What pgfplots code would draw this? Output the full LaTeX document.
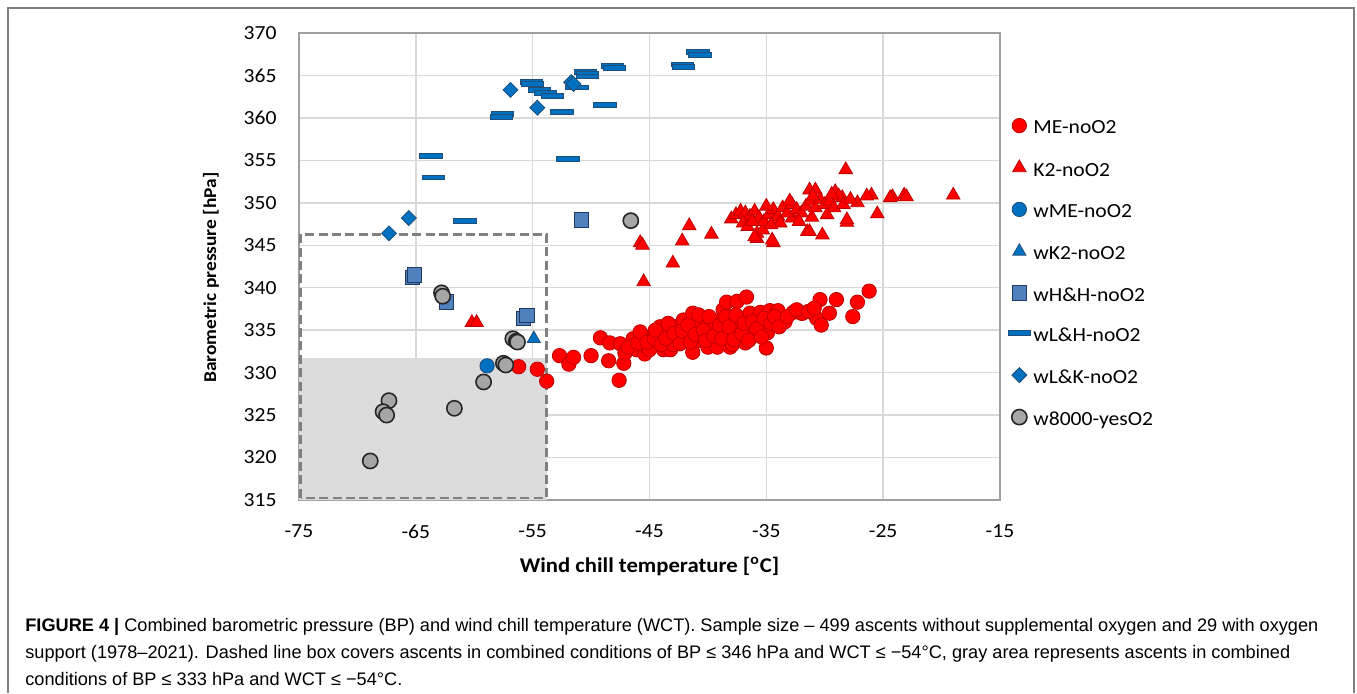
\documentclass[border=0pt]{standalone}
\usepackage{fontspec}
\setmainfont{Carlito}[FakeStretch=1.08]
\newfontfamily\capfont{Liberation Sans}
\usepackage{pgfplots}
\pgfplotsset{compat=1.18}
\definecolor{mered}{HTML}{FF0000}
\definecolor{meredge}{HTML}{C00000}
\definecolor{wblue}{HTML}{0070C0}
\definecolor{wblueedge}{HTML}{1F4E79}
\definecolor{hhblue}{HTML}{4F81BD}
\definecolor{hhedge}{HTML}{203864}
\definecolor{gfill}{HTML}{A6A6A6}
\definecolor{gedge}{HTML}{262626}
\definecolor{gridc}{HTML}{D9D9D9}
\definecolor{framec}{HTML}{A0A0A0}
\definecolor{areac}{HTML}{DCDCDC}
\definecolor{boxc}{HTML}{808080}
\pgfdeclareplotmark{dashrect}{\pgfpathrectangle{\pgfqpoint{-5.6pt}{-1.2pt}}{\pgfqpoint{11.2pt}{2.4pt}}\pgfusepathqfillstroke}
\pgfdeclareplotmark{diam}{\pgfpathmoveto{\pgfqpoint{0pt}{3.75pt}}\pgfpathlineto{\pgfqpoint{3.75pt}{0pt}}\pgfpathlineto{\pgfqpoint{0pt}{-3.75pt}}\pgfpathlineto{\pgfqpoint{-3.75pt}{0pt}}\pgfpathclose\pgfusepathqfillstroke}
\pgfplotsset{lgimg/.style={legend image code/.code={\draw[##1] plot coordinates {(0pt,1.6pt)};}}}
\begin{document}
\begin{tikzpicture}
\useasboundingbox (0,0) rectangle (678.5pt,346.5pt);
\draw[color=boxc, line width=1pt] (4pt,0pt) -- (4pt,342.5pt) -- (677pt,342.5pt) -- (677pt,0pt);
\begin{axis}[
  at={(149.5pt,96.5pt)}, anchor=south west,
  scale only axis, width=350.5pt, height=233.5pt,
  xmin=-75, xmax=-15, ymin=315, ymax=370,
  xtick={-75,-65,-55,-45,-35,-25,-15},
  xticklabels={-75,-65,-55,-45,-35,-25,-15},
  ytick={315,320,325,330,335,340,345,350,355,360,365,370},
  yticklabels={315,320,325,330,335,340,345,350,355,360,365,370},
  major tick length=0pt,
  grid=major, grid style={gridc, line width=0.75pt},
  axis line style={framec, line width=1pt},
  tick label style={font=\fontsize{10}{12}\selectfont, text=black},
  xticklabel style={yshift=-8.8pt},
  yticklabel style={xshift=-7.7pt},
  xlabel={Wind chill temperature [\textsuperscript{o}C]},
  ylabel={Barometric pressure [hPa]},
  xlabel style={at={(axis description cs:0.5,-0.1413)}, anchor=center, font=\bfseries\fontsize{10.5}{12}\selectfont},
  ylabel style={at={(axis description cs:-0.1255,0.476)}, anchor=center, font=\bfseries\fontsize{9}{11}\selectfont},
  legend style={at={(rel axis cs:1.0111,0.818)}, anchor=north west, draw=none, fill=none, inner sep=0pt,
    row sep=11.1pt, column sep=1.4pt, font=\fontsize{10}{12}\selectfont,
    nodes={inner sep=0pt, text height=7pt, text depth=2pt}},
  legend cell align=left,
]
\fill[areac] (axis cs:-75,315) rectangle (axis cs:-53.8,331.7);
\draw[boxc, line width=1.35pt, dash pattern=on 4.5pt off 2.2pt] (axis cs:-74.85,315.25) rectangle (axis cs:-53.8,346.3);

\addplot[only marks, mark=*, mark size=3.6pt, mark options={fill=mered, draw=meredge, line width=0.4pt}, lgimg] coordinates {
(-56.2,330.7) (-54.6,330.4) (-53.8,329.0) (-52.7,332.0) (-51.9,331.0) (-51.5,331.8) (-50.0,332.0)
(-49.2,334.1) (-48.5,331.4) (-48.4,333.5) (-47.6,329.1) (-47.5,333.4) (-47.2,331.1) (-47.1,332.3)
(-46.4,334.0) (-45.6,334.4) (-46.1,332.7) (-45.4,332.2) (-45.2,333.0) (-45.0,332.7) (-44.1,335.4)
(-44.1,334.4) (-43.8,332.7) (-43.5,334.7) (-43.2,332.7) (-43.0,333.3) (-42.8,335.4) (-42.6,334.2)
(-42.1,336.2) (-41.8,334.8) (-41.3,337.0) (-41.3,332.4) (-40.9,335.8) (-40.7,334.2) (-40.7,333.8)
(-40.1,336.2) (-40.0,333.0) (-39.6,335.3) (-39.2,333.0) (-38.9,336.2) (-38.7,337.4) (-38.4,338.3)
(-38.4,334.2) (-38.4,336.2) (-38.1,333.0) (-37.9,335.0) (-37.9,333.3) (-37.5,338.4) (-37.3,336.2)
(-37.3,335.4) (-36.7,338.9) (-36.8,333.5) (-36.7,336.5) (-36.4,337.0) (-36.1,334.7) (-35.5,337.1)
(-35.0,332.9) (-35.0,335.4) (-34.9,334.7) (-34.7,337.3) (-34.1,337.1) (-34.0,337.3) (-33.6,336.2)
(-33.4,336.0) (-32.7,337.1) (-32.0,337.0) (-31.9,337.0) (-30.4,338.6) (-30.7,336.4) (-30.3,335.6)
(-29.6,337.0) (-29.0,338.6) (-27.6,336.6) (-27.2,338.3) (-26.2,339.6)
(-46.8,333.0) (-46.0,333.5) (-45.8,334.8) (-45.2,333.6) (-44.6,334.0) (-44.5,335.0) (-44.0,333.3)
(-43.6,334.0) (-43.4,335.8) (-42.9,334.6) (-42.4,333.4) (-42.2,334.9) (-41.7,335.6) (-41.5,333.6)
(-41.1,334.5) (-40.8,336.8) (-40.4,335.0) (-40.2,333.8) (-39.9,336.6) (-39.5,334.3) (-39.0,335.6)
(-38.8,334.0) (-38.5,336.6) (-38.2,335.4) (-37.8,333.9) (-37.6,336.8) (-37.1,334.6) (-36.9,335.8)
(-36.5,333.8) (-36.2,336.0) (-35.8,335.2) (-35.4,334.2) (-35.2,336.4) (-34.6,335.8) (-34.3,336.6)
(-33.9,335.4) (-33.2,336.6) (-32.4,337.4) (-31.4,337.2) (-30.9,337.6)
};
\addlegendentry{ME-noO2}
\addplot[only marks, mark=triangle*, mark size=3.9pt, mark options={fill=mered, draw=meredge, line width=0.4pt}, lgimg] coordinates {
(-60.2,335.9) (-59.8,335.9) (-45.8,345.3) (-45.6,345.0) (-45.5,340.7) (-43.0,342.9) (-42.2,345.5)
(-41.6,347.3) (-39.7,346.3) (-28.2,353.9) (-19.0,350.9) (-23.2,350.9) (-23.0,350.7) (-24.2,350.7)
(-24.4,350.6) (-26.0,350.9) (-26.4,350.8) (-25.5,348.7) (-28.1,347.7) (-30.2,346.2) (-31.5,346.6)
(-31.3,346.6) (-34.4,345.3) (-35.8,345.8) (-35.8,346.4) (-35.3,346.8) (-34.4,347.7) (-32.8,348.2)
(-31.1,348.3) (-31.3,351.5) (-30.8,351.5) (-29.1,351.3) (-28.5,350.6) (-27.2,350.0)
(-38.0,348.1) (-37.6,348.6) (-37.2,349.0) (-36.8,348.8) (-36.4,348.4) (-36.0,349.0) (-35.6,348.2)
(-35.2,347.8) (-34.8,348.6) (-34.4,349.2) (-34.0,348.4) (-33.6,349.4) (-33.2,348.8) (-32.8,349.8)
(-32.4,349.2) (-32.0,348.8) (-31.6,349.6) (-31.2,350.2) (-30.8,349.4) (-30.4,350.4) (-30.0,349.8)
(-29.6,350.2) (-29.2,349.4) (-28.8,350.8) (-28.4,349.8) (-37.0,347.6) (-36.6,347.2) (-33.8,347.6)
(-32.2,347.8) (-29.8,348.6) (-35.0,349.6) (-33.0,350.2) (-31.0,350.8) (-29.4,351.0) (-36.2,347.8)
(-34.6,347.4) (-27.8,350.4) (-36.0,346.0) (-34.5,345.6) (-28.1,348.0)
};
\addlegendentry{K2-noO2}
\addplot[only marks, mark=*, mark size=3.6pt, mark options={fill=wblue, draw=wblueedge, line width=0.4pt}, lgimg] coordinates {
(-58.9,330.8)
};
\addlegendentry{wME-noO2}
\addplot[only marks, mark=triangle*, mark size=3.8pt, mark options={fill=wblue, draw=wblueedge, line width=0.4pt}, lgimg] coordinates {
(-54.9,334.0)
};
\addlegendentry{wK2-noO2}
\addplot[only marks, mark=square*, mark size=3.6pt, mark options={fill=hhblue, draw=hhedge, line width=0.5pt}, lgimg] coordinates {
(-65.3,341.2) (-65.1,341.5) (-62.4,338.3) (-55.8,336.4) (-55.5,336.7) (-50.8,348.0)
};
\addlegendentry{wH\&H-noO2}
\addplot[only marks, mark=dashrect, mark options={fill=wblue, draw=wblueedge, line width=0.4pt}, lgimg] coordinates {
(-40.85,367.8) (-40.7,367.4) (-42.2,366.3) (-42.1,366.0) (-48.2,366.1) (-48.0,365.9)
(-50.5,365.4) (-50.3,365.2) (-50.3,364.9) (-51.2,363.6) (-55.1,364.2) (-55.0,364.0)
(-54.4,363.3) (-53.9,362.9) (-53.3,362.6) (-48.8,361.5) (-52.5,360.7) (-57.6,360.5)
(-57.7,360.1) (-63.7,355.5) (-63.5,353.0) (-52.0,355.2) (-60.8,347.9)
};
\addlegendentry{wL\&H-noO2}
\addplot[only marks, mark=diam, mark options={fill=wblue, draw=wblueedge, line width=0.4pt}, lgimg] coordinates {
(-56.9,363.3) (-54.6,361.2) (-51.7,364.2) (-51.5,364.0) (-65.6,348.2) (-67.3,346.4)
};
\addlegendentry{wL\&K-noO2}
\addplot[only marks, mark=*, mark size=3.8pt, mark options={fill=gfill, draw=gedge, line width=0.8pt}, lgimg] coordinates {
(-62.8,339.4) (-62.7,339.0) (-56.7,334.0) (-56.4,333.7) (-56.3,333.6) (-57.5,331.1) (-57.3,330.9)
(-59.2,328.9) (-67.3,326.7) (-67.8,325.4) (-67.5,325.0) (-61.7,325.8) (-68.9,319.6) (-46.6,347.9)
};
\addlegendentry{w8000-yesO2}
\end{axis}
\node[anchor=base west, inner sep=0pt, font=\capfont\fontsize{9.08}{11}\selectfont] at (12.5pt,31pt) {\textbf{FIGURE 4 |} Combined barometric pressure (BP) and wind chill temperature (WCT). Sample size – 499 ascents without supplemental oxygen and 29 with oxygen};
\node[anchor=base west, inner sep=0pt, font=\capfont\fontsize{9.08}{11}\selectfont] at (12.5pt,17.5pt) {support (1978–2021). Dashed line box covers ascents in combined conditions of BP ≤ 346 hPa and WCT ≤ −54°C, gray area represents ascents in combined};
\node[anchor=base west, inner sep=0pt, font=\capfont\fontsize{9.08}{11}\selectfont] at (12.5pt,4pt) {conditions of BP ≤ 333 hPa and WCT ≤ −54°C.};
\end{tikzpicture}
\end{document}
